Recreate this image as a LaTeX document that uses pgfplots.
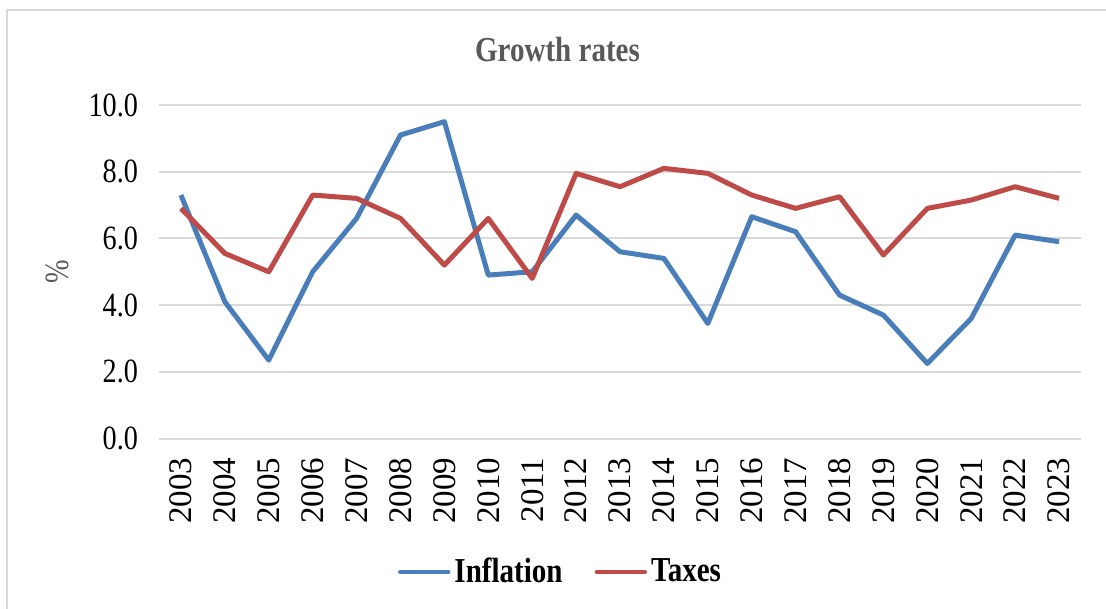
\documentclass[border=0pt]{standalone}
\usepackage{fontspec}
\usepackage{pgfplots}
\usepackage{pgfplotstable}
\pgfplotsset{compat=1.18}
\setmainfont[FakeStretch=0.83]{Liberation Serif}
\newfontfamily\yearfont{Liberation Serif}

\definecolor{inflblue}{HTML}{4A7EBB}
\definecolor{taxred}{HTML}{BE4B48}
\definecolor{gridgray}{HTML}{D9D9D9}
\definecolor{titlegray}{HTML}{595959}

% Annual growth rates (%), 2003-2023, indexed 0..20
\pgfplotstableread{
idx inflation taxes
0  7.30 6.90
1  4.10 5.55
2  2.35 5.00
3  5.00 7.30
4  6.60 7.20
5  9.10 6.60
6  9.50 5.20
7  4.90 6.60
8  5.00 4.80
9  6.70 7.95
10 5.60 7.55
11 5.40 8.10
12 3.45 7.95
13 6.65 7.30
14 6.20 6.90
15 4.30 7.25
16 3.70 5.50
17 2.25 6.90
18 3.60 7.15
19 6.10 7.55
20 5.90 7.20
}\ratesdata

\begin{document}
\begin{tikzpicture}
\useasboundingbox (0,0) rectangle (553pt,-304.5pt);
% chart frame
\draw[gridgray, line width=0.8pt] (3.5pt,-304.5pt) -- (3.5pt,-5pt) -- (553pt,-5pt);

\begin{axis}[
  anchor=south west, at={(79.5pt,-219.25pt)},
  scale only axis, width=461pt, height=166.75pt,
  xmin=-0.5, xmax=20.5, ymin=0, ymax=10,
  xtick={0,...,20},
  xticklabels={2003,2004,2005,2006,2007,2008,2009,2010,2011,2012,2013,2014,2015,2016,2017,2018,2019,2020,2021,2022,2023},
  ytick={0,2,4,6,8,10},
  ymajorgrids, grid style={gridgray, line width=1pt},
  axis line style={draw=none},
  major tick length=0pt,
  yticklabel={\pgfmathprintnumber[fixed,fixed zerofill,precision=1]{\tick}},
  /pgf/number format/assume math mode=true,
  yticklabel style={font=\fontsize{17}{19}\selectfont, xshift=-7pt},
  xticklabel style={font=\yearfont\fontsize{16.5}{19}\selectfont, yshift=-6pt, rotate=90, anchor=east},
  legend columns=2,
  legend style={draw=none, fill=none, at={(axis description cs:0.4366,-0.40)}, anchor=center,
    font=\bfseries\fontsize{17.5}{19}\selectfont, /tikz/every even column/.append style={column sep=14pt},
    inner sep=0pt},
  legend image code/.code={\draw[#1, line width=2.2pt, line cap=round] (0pt,0pt) -- (24pt,0pt);},
  line join=round,
]
\addplot[inflblue, line width=2.5pt] table[x=idx, y=inflation] {\ratesdata};
\addlegendentry{Inflation}
\addplot[taxred, line width=2.5pt] table[x=idx, y=taxes] {\ratesdata};
\addlegendentry{Taxes}
\end{axis}

\node[titlegray, font=\bfseries\fontsize{17.5}{20}\selectfont] at (278.75pt,-25pt) {Growth rates};
\node[titlegray, rotate=90, font=\fontsize{17}{19}\selectfont] at (28.5pt,-136pt) {\%};
\end{tikzpicture}
\end{document}
